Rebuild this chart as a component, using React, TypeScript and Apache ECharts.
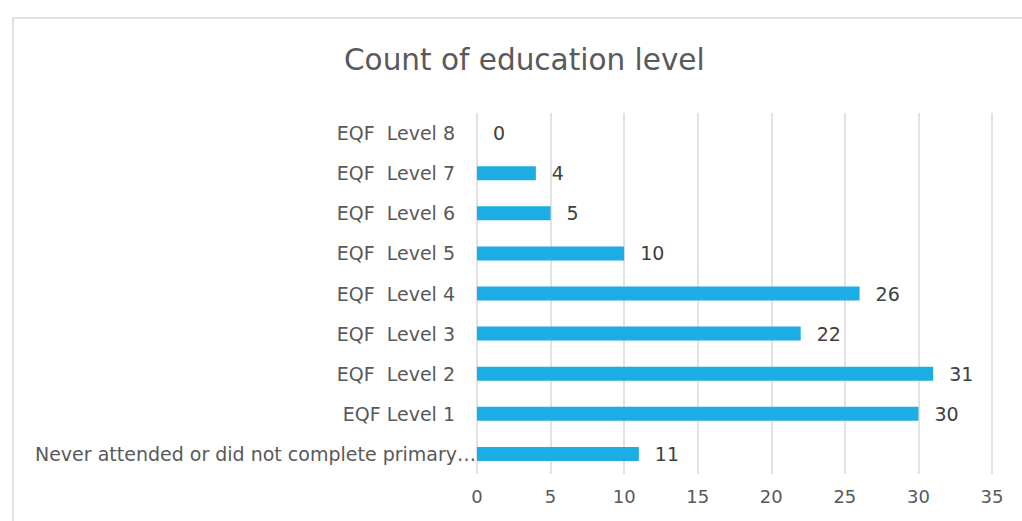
import React, { useEffect, useRef } from "react";
import * as echarts from "echarts";

const categories = [
  "EQF  Level 8",
  "EQF  Level 7",
  "EQF  Level 6",
  "EQF  Level 5",
  "EQF  Level 4",
  "EQF  Level 3",
  "EQF  Level 2",
  "EQF Level 1",
  "Never attended or did not complete primary…",
];
const counts = [0, 4, 5, 10, 26, 22, 31, 30, 11];
const xTicks = { min: 0, max: 35, interval: 5 };
const title = "Count of education level";

const FONT = "'DejaVu Sans', sans-serif";

export default function App() {
  const ref = useRef<HTMLDivElement>(null);
  useEffect(() => {
    document.body.style.margin = "0";
    const chart = echarts.init(ref.current!, undefined, { renderer: "svg" });
    chart.setOption({
      animation: false,
      backgroundColor: "#ffffff",
      title: {
        text: title,
        left: 339,
        top: 40,
        textStyle: { fontFamily: FONT, fontSize: 29.5, fontWeight: "normal", color: "#595959" },
      },
      graphic: [
        {
          type: "rect",
          shape: { x: 13, y: 18, width: 1030, height: 530 },
          style: { fill: "none", stroke: "#d9d9d9", lineWidth: 1.5 },
          silent: true,
        },
      ],
      grid: { left: 477, right: 30, top: 113, bottom: 47, containLabel: false },
      xAxis: {
        type: "value",
        min: xTicks.min,
        max: xTicks.max,
        interval: xTicks.interval,
        axisLine: { show: false },
        axisTick: { show: false },
        splitLine: { show: true, lineStyle: { color: "#d9d9d9", width: 1.5 } },
        axisLabel: { fontFamily: FONT, fontSize: 18, color: "#595959", margin: 13 },
      },
      yAxis: {
        type: "category",
        data: categories,
        inverse: true,
        axisLine: { show: false },
        axisTick: { show: false },
        axisLabel: {
          fontFamily: FONT,
          fontSize: 19,
          color: "#595959",
          margin: 22,
          formatter: (v: string) => (v.length > 20 ? `{long|${v}}` : v),
          rich: {
            long: { fontFamily: FONT, fontSize: 19, color: "#595959", padding: [0, -21, 0, 0] },
          },
        },
      },
      series: [
        {
          type: "bar",
          data: counts,
          barWidth: 14,
          itemStyle: { color: "#1CADE4" },
          label: {
            show: true,
            position: "right",
            distance: 16,
            fontFamily: FONT,
            fontSize: 19,
            color: "#404040",
          },
        },
      ],
    });
    return () => chart.dispose();
  }, []);
  return <div ref={ref} style={{ width: 1022, height: 521 }} />;
}
